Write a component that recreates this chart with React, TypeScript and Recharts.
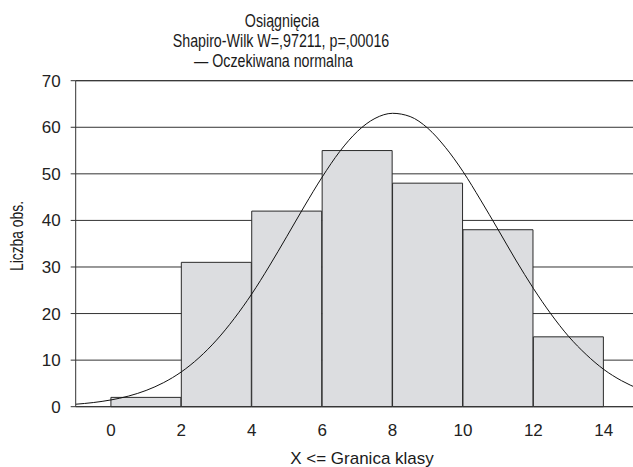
import React from 'react';
import { ComposedChart, Bar, Line, XAxis, YAxis, CartesianGrid } from 'recharts';

// Histogram bins (class centres) and counts
const binCenters = [1, 3, 5, 7, 9, 11, 13];
const binCounts = [2, 31, 42, 55, 48, 38, 15];

// Expected normal curve
const curveX = [-1, -0.5, 0, 0.5, 1, 1.5, 2, 2.5, 3, 3.5, 4, 4.5, 5, 5.5, 6, 6.5, 7, 7.5, 8, 8.5, 9, 9.5, 10, 10.5, 11, 11.5, 12, 12.5, 13, 13.5, 14, 14.5, 15];
const curveY = [0.53, 0.89, 1.45, 2.28, 3.49, 5.18, 7.47, 10.5, 14.3, 18.9, 24.2, 30.2, 36.6, 43.1, 49.3, 54.8, 59.1, 61.9, 63.0, 62.3, 59.8, 55.7, 50.5, 44.4, 38.0, 31.5, 25.4, 19.9, 15.1, 11.2, 8.0, 5.6, 3.8];

const xTicks = [0, 2, 4, 6, 8, 10, 12, 14];
const yTicks = [0, 10, 20, 30, 40, 50, 60, 70];

const titleLine1 = 'Osiągnięcia';
const titleLine2 = 'Shapiro-Wilk W=,97211, p=,00016';
const legendText = '— Oczekiwana normalna';
const xLabel = 'X <= Granica klasy';
const yLabel = 'Liczba obs.';

const barData = binCenters.map((x, i) => ({ x, count: binCounts[i] }));
const curveData = curveX.map((x, i) => ({ x, y: curveY[i] }));

const FONT = '"Liberation Sans", Arial, Helvetica, sans-serif';
const AX = '#333';

export default function App() {
  return (
    <div
      style={{
        position: 'fixed',
        left: 0,
        top: 0,
        width: 633,
        height: 467,
        overflow: 'hidden',
        background: '#fff',
      }}
    >
      <ComposedChart
        width={645}
        height={467}
        data={barData}
        margin={{ top: 80.7, left: 15.7, right: 6, bottom: 30.3 }}
        barCategoryGap={0}
        barGap={0}
      >
        <CartesianGrid vertical={false} stroke={AX} />
        <XAxis
          dataKey="x"
          type="number"
          domain={[-1, 15]}
          ticks={xTicks}
          allowDataOverflow
          height={30}
          tickLine={false}
          tickSize={6}
          tickMargin={11}
          axisLine={{ stroke: AX }}
          tick={{ fontSize: 17, fill: '#222', fontFamily: FONT }}
        />
        <XAxis
          xAxisId="top"
          orientation="top"
          type="number"
          domain={[-1, 15]}
          ticks={xTicks}
          allowDataOverflow
          mirror
          tick={false}
          tickSize={3}
          axisLine={{ stroke: AX }}
          tickLine={{ stroke: AX }}
        />
        <XAxis
          xAxisId="curve"
          dataKey="x"
          type="number"
          domain={[-1, 15]}
          allowDataOverflow
          hide
        />
        <YAxis
          type="number"
          domain={[0, 70]}
          ticks={yTicks}
          width={60}
          tickSize={5}
          tickMargin={10}
          axisLine={{ stroke: AX }}
          tickLine={{ stroke: AX }}
          tick={{ fontSize: 17, fill: '#222', fontFamily: FONT }}
        />
        <Bar
          dataKey="count"
          fill="#dcdde0"
          stroke="#2a2a2a"
          strokeWidth={1}
          isAnimationActive={false}
        />
        <Line
          xAxisId="curve"
          data={curveData}
          dataKey="y"
          type="monotone"
          stroke="#111"
          strokeWidth={1}
          dot={false}
          activeDot={false}
          isAnimationActive={false}
        />
      </ComposedChart>
      <svg
        width={633}
        height={467}
        style={{ position: 'absolute', left: 0, top: 0, pointerEvents: 'none' }}
      >
        <g fontFamily={FONT} fill="#1a1a1a">
          <text transform="translate(282,26.7) scale(0.77,1)" textAnchor="middle" fontSize={18.5}>
            {titleLine1}
          </text>
          <text transform="translate(281,46.7) scale(0.77,1)" textAnchor="middle" fontSize={18.5}>
            {titleLine2}
          </text>
          <text transform="translate(194,66.7) scale(0.77,1)" textAnchor="start" fontSize={18.5}>
            {legendText}
          </text>
          <text transform="translate(23.3,236) rotate(-90) scale(0.77,1)" textAnchor="middle" fontSize={18}>
            {yLabel}
          </text>
          <text x={362} y={463.5} textAnchor="middle" fontSize={17}>
            {xLabel}
          </text>
        </g>
      </svg>
    </div>
  );
}
